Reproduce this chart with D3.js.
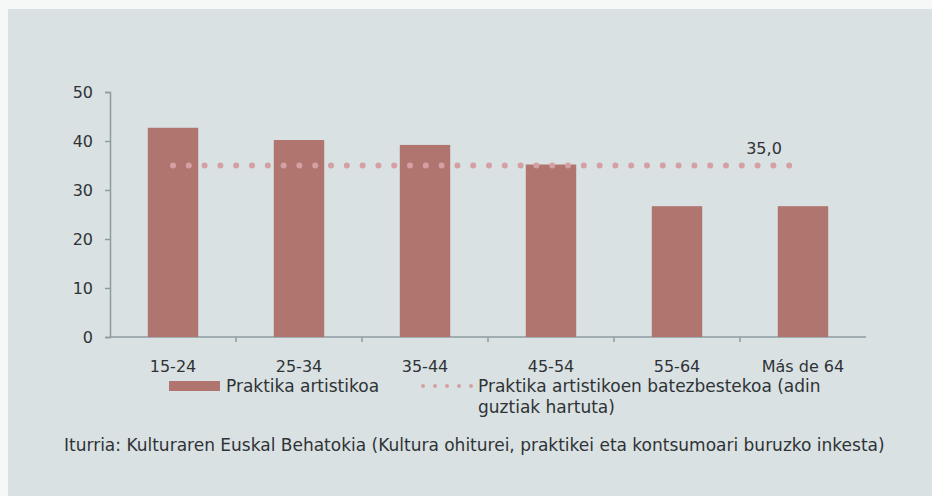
<!DOCTYPE html>
<html>
<head>
<meta charset="utf-8">
<script src="https://cdn.jsdelivr.net/npm/d3@7"></script>
<style>
  body { margin: 0; background: #f6f8f8; }
  svg { display: block; }
  text { font-family: "DejaVu Sans", sans-serif; fill: #2f3336; }
</style>
</head>
<body>
<script>

// chart data
var ageGroups = ["15-24", "25-34", "35-44", "45-54", "55-64", "Más de 64"];
var practiceValues = [42.7, 40.2, 39.2, 35.2, 26.7, 26.7];
var averageValue = 35.0;
var yTicks = [0, 10, 20, 30, 40, 50];
var legendLabels = ["Praktika artistikoa", "Praktika artistikoen batezbestekoa (adin", "guztiak hartuta)"];
var sourceText = "Iturria: Kulturaren Euskal Behatokia (Kultura ohiturei, praktikei eta kontsumoari buruzko inkesta)";

window.onload = function() {
  drawChart();
};

function drawChart() {
  /*
  draws the panel, axes, bars, dotted average line,
  legend and source line
  */
  var width = 932, height = 496;
  var chart = {left: 110, right: 866, top: 92, bottom: 337};
  var barColor = "#b0756f";
  var dotColor = "#d4a0a3";
  var axisColor = "#8d9ca1";

  var svg = d3.select("body")
              .append("svg")
              .attr("width", width)
              .attr("height", height);

  // grey panel
  svg.append("rect")
     .attr("x", 8)
     .attr("y", 9)
     .attr("width", width - 8)
     .attr("height", height - 9)
     .attr("fill", "#d9e1e3");

  // scales
  var xScale = d3.scaleBand()
                 .domain(ageGroups)
                 .range([chart.left, chart.right])
                 .paddingInner(0.6)
                 .paddingOuter(0.3);
  var yScale = d3.scaleLinear()
                 .domain([0, 50])
                 .range([chart.bottom, chart.top]);

  // y axis
  var yAxis = d3.axisLeft(yScale)
                .tickValues(yTicks)
                .tickSize(5)
                .tickPadding(12);
  var yG = svg.append("g")
              .attr("transform", "translate(" + chart.left + ",0)")
              .call(yAxis);
  yG.selectAll("path, line").attr("stroke", axisColor).attr("stroke-width", 1.5);
  yG.selectAll("text")
    .style("font-size", "16px")
    .attr("fill", "#2f3336");

  // x axis, ticks between the categories
  var bandEdges = ageGroups.slice(1).map(function(d) {
    return xScale(d) - xScale.step() * xScale.paddingInner() / 2;
  });
  var xG = svg.append("g");
  xG.append("line")
    .attr("x1", chart.left)
    .attr("x2", chart.right)
    .attr("y1", chart.bottom)
    .attr("y2", chart.bottom)
    .attr("stroke", axisColor)
    .attr("stroke-width", 1.5);
  xG.selectAll(".tick")
    .data(bandEdges)
    .enter()
    .append("line")
    .attr("x1", function(d) { return d; })
    .attr("x2", function(d) { return d; })
    .attr("y1", chart.bottom)
    .attr("y2", chart.bottom + 5)
    .attr("stroke", axisColor)
    .attr("stroke-width", 1.5);
  xG.selectAll(".label")
    .data(ageGroups)
    .enter()
    .append("text")
    .attr("x", function(d) { return xScale(d) + xScale.bandwidth() / 2; })
    .attr("y", 372)
    .attr("text-anchor", "middle")
    .style("font-size", "16px")
    .text(function(d) { return d; });

  // bars
  svg.selectAll(".bar")
     .data(practiceValues)
     .enter()
     .append("rect")
     .attr("x", function(d, i) { return xScale(ageGroups[i]); })
     .attr("y", function(d) { return yScale(d); })
     .attr("width", xScale.bandwidth())
     .attr("height", function(d) { return chart.bottom - yScale(d); })
     .attr("fill", barColor);

  // dotted average line
  var firstCenter = xScale(ageGroups[0]) + xScale.bandwidth() / 2;
  var lastCenter = xScale(ageGroups[ageGroups.length - 1]) + xScale.bandwidth() / 2;
  svg.append("line")
     .attr("x1", firstCenter)
     .attr("x2", lastCenter)
     .attr("y1", yScale(averageValue))
     .attr("y2", yScale(averageValue))
     .attr("stroke", dotColor)
     .attr("stroke-width", 6)
     .attr("stroke-linecap", "round")
     .attr("stroke-dasharray", "0 15.8");

  svg.append("text")
     .attr("x", 764)
     .attr("y", yScale(averageValue) - 12)
     .attr("text-anchor", "middle")
     .style("font-size", "16px")
     .text(d3.format(".1f")(averageValue).replace(".", ","));

  // legend
  var legend = svg.append("g");
  legend.append("rect")
        .attr("x", 169)
        .attr("y", 381)
        .attr("width", 51)
        .attr("height", 10)
        .attr("fill", barColor);
  legend.append("text")
        .attr("x", 226)
        .attr("y", 392)
        .style("font-size", "17px")
        .text(legendLabels[0]);
  legend.append("line")
        .attr("x1", 423)
        .attr("x2", 472)
        .attr("y1", 386)
        .attr("y2", 386)
        .attr("stroke", dotColor)
        .attr("stroke-width", 4)
        .attr("stroke-linecap", "round")
        .attr("stroke-dasharray", "0 12");
  legend.append("text")
        .attr("x", 478)
        .attr("y", 392)
        .style("font-size", "17px")
        .text(legendLabels[1]);
  legend.append("text")
        .attr("x", 478)
        .attr("y", 413)
        .style("font-size", "17px")
        .text(legendLabels[2]);

  // source line
  svg.append("text")
     .attr("x", 64)
     .attr("y", 451)
     .style("font-size", "17px")
     .text(sourceText);
};

</script>
</body>
</html>
